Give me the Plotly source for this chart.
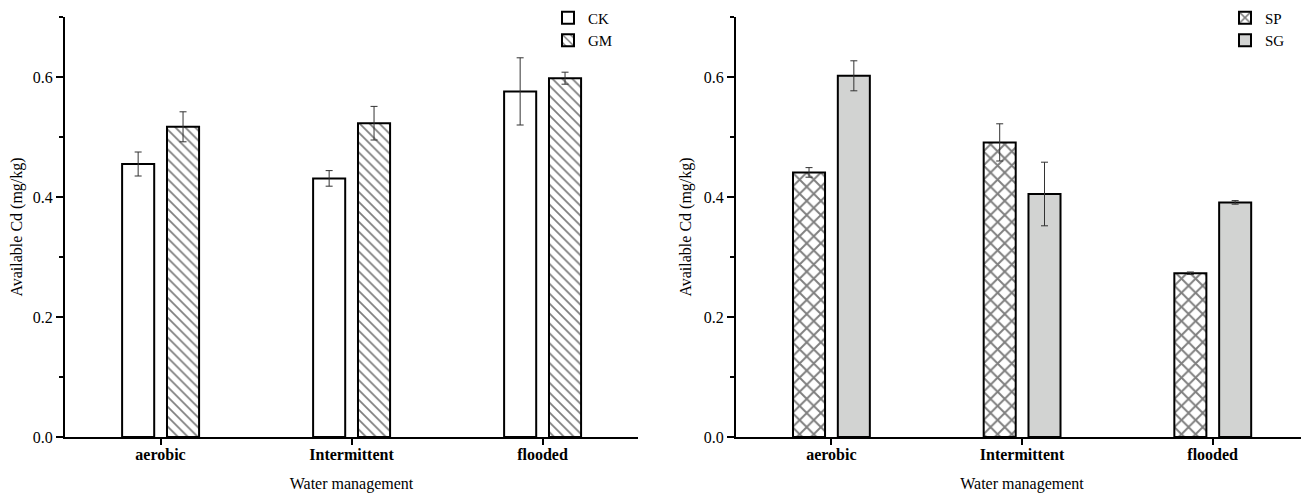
import plotly.graph_objects as go

categories = ["aerobic", "Intermittent", "flooded"]

ck_values = [0.455, 0.431, 0.576]
ck_errors = [0.020, 0.013, 0.056]
gm_values = [0.517, 0.523, 0.598]
gm_errors = [0.025, 0.028, 0.010]

sp_values = [0.441, 0.491, 0.273]
sp_errors = [0.008, 0.031, 0.002]
sg_values = [0.602, 0.405, 0.391]
sg_errors = [0.025, 0.053, 0.003]

y_title = "Available Cd (mg/kg)"
x_title = "Water management"

FONT = "Liberation Serif"
ERR = dict(type="data", thickness=1, width=3.5, color="#333333")
BAR_W = 0.168
OFF_L = -0.201
OFF_R = 0.034

W, H = 1301, 488  # page body has an 8px margin

fig = go.Figure()

fig.add_trace(go.Bar(
    name="CK", x=categories, y=ck_values,
    error_y=dict(array=ck_errors, **ERR),
    marker=dict(color="white", line=dict(color="black", width=2)),
    width=BAR_W, offset=OFF_L, xaxis="x", yaxis="y", legend="legend",
))
fig.add_trace(go.Bar(
    name="GM", x=categories, y=gm_values,
    error_y=dict(array=gm_errors, **ERR),
    marker=dict(color="white", line=dict(color="black", width=2),
                pattern=dict(shape="\\", fgcolor="black", bgcolor="white",
                             size=7, solidity=0.25)),
    width=BAR_W, offset=OFF_R, xaxis="x", yaxis="y", legend="legend",
))
fig.add_trace(go.Bar(
    name="SP", x=categories, y=sp_values,
    error_y=dict(array=sp_errors, **ERR),
    marker=dict(color="white", line=dict(color="black", width=2),
                pattern=dict(shape="x", fgcolor="black", bgcolor="white",
                             size=10, solidity=0.35)),
    width=BAR_W, offset=OFF_L, xaxis="x2", yaxis="y2", legend="legend2",
))
fig.add_trace(go.Bar(
    name="SG", x=categories, y=sg_values,
    error_y=dict(array=sg_errors, **ERR),
    marker=dict(color="#d2d3d2", line=dict(color="black", width=2)),
    width=BAR_W, offset=OFF_R, xaxis="x2", yaxis="y2", legend="legend2",
))

y_dom = [(H - 429) / H, (H - 9) / H]

xcommon = dict(
    type="category", showline=True, linecolor="black", linewidth=2,
    ticks="outside", ticklen=6, tickwidth=1.5, tickcolor="black",
    ticklabelstandoff=-4,
    tickfont=dict(family=FONT, size=16, color="black", weight="bold"),
    showgrid=False, zeroline=False, automargin=False,
    range=[-0.5, 2.5], fixedrange=True,
    title=dict(text=x_title, font=dict(family=FONT, size=16, color="black"), standoff=16),
)
ycommon = dict(
    range=[0, 0.7], showline=True, linecolor="black", linewidth=2,
    ticks="outside", ticklen=7, tickwidth=1.5, tickcolor="black",
    tickvals=[0, 0.2, 0.4, 0.6], ticktext=["0.0", "0.2", "0.4", "0.6"],
    minor=dict(tickvals=[0.1, 0.3, 0.5, 0.7], ticks="outside", ticklen=4,
               tickwidth=1.5, tickcolor="black", showgrid=False),
    tickfont=dict(family=FONT, size=16, color="black"),
    showgrid=False, zeroline=False, automargin=False,
    title=dict(text=y_title, font=dict(family=FONT, size=16, color="black"), standoff=8),
)

fig.update_layout(
    width=W, height=H,
    margin=dict(l=0, r=0, t=0, b=0, autoexpand=False),
    paper_bgcolor="white", plot_bgcolor="white",
    barmode="overlay",
    xaxis=dict(domain=[57 / W, 630 / W], anchor="y", **xcommon),
    yaxis=dict(domain=y_dom, anchor="x", **ycommon),
    xaxis2=dict(domain=[728 / W, 1300 / W], anchor="y2", **xcommon),
    yaxis2=dict(domain=y_dom, anchor="x2", **ycommon),
    legend=dict(x=540 / W, y=1.0135, xanchor="left", yanchor="top",
                bgcolor="rgba(0,0,0,0)", tracegroupgap=0,
                font=dict(family=FONT, size=15, color="black")),
    legend2=dict(x=1217 / W, y=1.0135, xanchor="left", yanchor="top",
                 bgcolor="rgba(0,0,0,0)", tracegroupgap=0,
                 font=dict(family=FONT, size=15, color="black")),
    showlegend=True,
)

fig.write_html("out.html")
